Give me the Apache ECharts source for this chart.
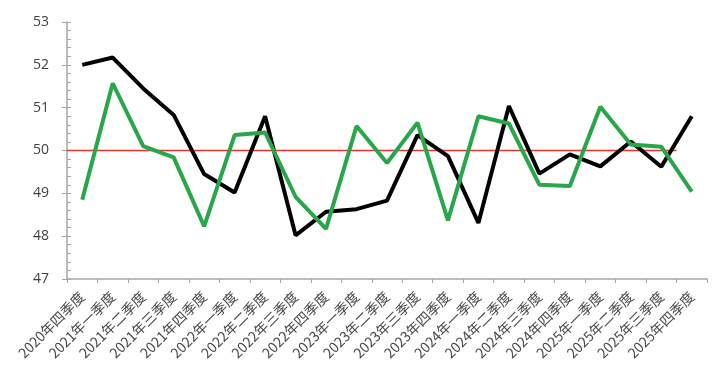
<!DOCTYPE html>
<html><head><meta charset="utf-8">
<script src="https://cdn.jsdelivr.net/npm/echarts@6/dist/echarts.min.js"></script>
<style>html,body{margin:0;padding:0;background:#fff}#c{width:720px;height:386px}</style>
</head><body><div id="c"></div>
<script>
const categories = ['2020年四季度','2021年一季度','2021年二季度','2021年三季度','2021年四季度','2022年一季度','2022年二季度','2022年三季度','2022年四季度','2023年一季度','2023年二季度','2023年三季度','2023年四季度','2024年一季度','2024年二季度','2024年三季度','2024年四季度','2025年一季度','2025年二季度','2025年三季度','2025年四季度'];
const blackSeries = [52.0,52.17,51.45,50.83,49.45,49.02,50.8,48.02,48.57,48.63,48.83,50.36,49.87,48.31,51.04,49.46,49.91,49.63,50.21,49.62,50.8];
const greenSeries = [48.85,51.57,50.1,49.84,48.23,50.36,50.42,48.92,48.17,50.57,49.71,50.65,48.37,50.8,50.63,49.2,49.17,51.02,50.14,50.09,49.04];
const refLine = categories.map(() => 50);
const refCats = categories.concat(['']);
const chart = echarts.init(document.getElementById('c'));
chart.setOption({
  animation: false,
  grid: {left: 67, right: 13, top: 22, bottom: 107},
  xAxis: [{
    type: 'category', data: categories, boundaryGap: true,
    axisLine: {lineStyle: {color: '#a6a6a6', width: 1.5}},
    axisTick: {show: true, alignWithLabel: false, length: 4, lineStyle: {color: '#a6a6a6'}},
    axisLabel: {rotate: 45, interval: 0, fontSize: 14, color: '#4a4a4a', margin: 15, fontFamily: 'Noto Sans CJK SC'}
  }, {
    type: 'category', data: refCats, boundaryGap: false, show: false, position: 'bottom'
  }],
  yAxis: [{
    type: 'value', min: 47, max: 53, interval: 1,
    axisLine: {show: true, lineStyle: {color: '#a6a6a6', width: 1.5}},
    axisTick: {show: true, length: 5, lineStyle: {color: '#a6a6a6'}},
    splitLine: {show: false},
    axisLabel: {fontSize: 14, color: '#404040', margin: 18, fontFamily: 'Open Sans'}
  }, {
    type: 'value', min: 47, max: 53, interval: 1, position: 'left', offset: 0,
    axisLine: {show: false},
    axisTick: {show: true, inside: true, length: 4, lineStyle: {color: '#a6a6a6'}},
    minorTick: {show: true, splitNumber: 5, length: 4, lineStyle: {color: '#a6a6a6'}},
    splitLine: {show: false},
    axisLabel: {show: false}
  }],
  series: [
    {type: 'line', xAxisIndex: 1, data: refLine, symbol: 'none', lineStyle: {color: '#e8332f', width: 1.5}, z: 1},
    {type: 'line', data: blackSeries, symbol: 'none', lineStyle: {color: '#000000', width: 4}, z: 2},
    {type: 'line', data: greenSeries, symbol: 'none', lineStyle: {color: '#27a64a', width: 4}, z: 3}
  ]
});
</script></body></html>
